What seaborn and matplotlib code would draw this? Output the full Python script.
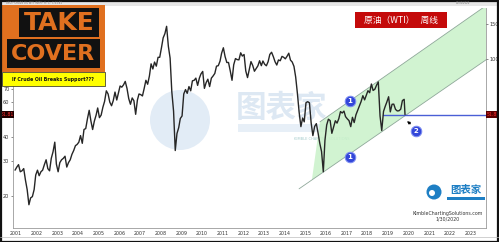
import numpy as np
import pandas as pd
import matplotlib
matplotlib.use("Agg")
import matplotlib.pyplot as plt
import seaborn as sns
from matplotlib.patches import Rectangle, Circle, Polygon

# ---------------- data ----------------
wti_start = "2001-03-01"
wti_monthly = [
    # 2001 (Mar-Dec)
    27.0, 28.0, 28.8, 26.5, 26.8, 27.5, 24.0, 21.5, 18.0, 19.5,
    # 2002
    19.8, 21.5, 25.5, 27.0, 25.3, 26.5, 27.0, 28.8, 30.5, 27.5, 26.8, 31.0,
    # 2003
    33.5, 37.5, 29.0, 26.5, 29.5, 30.5, 31.0, 31.8, 28.0, 29.5, 30.5, 32.5,
    # 2004
    34.0, 36.0, 36.5, 37.5, 40.5, 37.0, 43.5, 44.0, 49.5, 54.5, 48.0, 43.5,
    # 2005
    48.0, 51.5, 56.0, 50.0, 51.5, 56.5, 60.5, 68.5, 66.0, 60.0, 57.5, 61.0,
    # 2006
    67.5, 61.5, 66.5, 72.5, 71.5, 73.5, 76.5, 70.5, 62.5, 58.5, 63.0, 61.0,
    # 2007
    52.0, 61.5, 66.0, 65.5, 64.5, 70.5, 77.5, 74.0, 81.5, 94.0, 88.5, 96.0,
    # 2008
    91.5, 101.5, 101.5, 113.5, 127.5, 134.0, 146.0, 115.5, 100.5, 67.8, 54.0, 34.0,
    # 2009
    41.5, 44.5, 49.5, 51.0, 66.0, 69.5, 66.5, 72.0, 68.5, 77.0, 77.5, 79.5,
    # 2010
    73.0, 79.5, 83.5, 86.0, 70.5, 75.5, 78.5, 72.0, 79.5, 81.5, 84.0, 91.5,
    # 2011
    92.0, 97.0, 106.5, 113.5, 102.5, 95.5, 95.5, 86.5, 77.5, 93.0, 100.0, 98.8,
    # 2012
    98.5, 107.0, 103.0, 104.9, 86.5, 80.0, 88.0, 96.5, 92.2, 86.2, 88.9, 91.8,
    # 2013
    97.5, 92.0, 97.2, 93.5, 91.9, 96.5, 105.0, 107.7, 102.3, 96.4, 92.7, 98.4,
    # 2014
    97.5, 102.6, 101.6, 99.7, 102.7, 106.5, 98.2, 96.0, 91.2, 80.5, 66.2, 53.3,
    # 2015
    45.0, 49.8, 47.6, 59.6, 60.3, 59.5, 47.1, 40.5, 45.1, 46.6, 41.7, 37.0,
    # 2016
    33.6, 26.5, 38.3, 45.9, 49.1, 48.3, 41.6, 44.7, 48.2, 46.9, 49.4, 53.7,
    # 2017
    52.8, 54.0, 50.6, 49.3, 48.3, 45.0, 50.2, 47.2, 51.7, 54.4, 57.4, 60.4,
    # 2018
    64.7, 61.6, 64.9, 68.6, 67.0, 74.2, 68.8, 69.8, 73.3, 76.0, 50.9, 43.0,
    # 2019
    53.8, 57.2, 60.1, 63.9, 53.5, 58.5, 58.6, 55.1, 54.1, 54.2, 55.2, 61.1,
    # 2020 (Jan)
    62.0,
]
wti_last_date = "2020-01-30"
wti_last = 51.81

channel_lower_x = [2014.95, 2024.0]
channel_lower_y = [21.7, 98.5]
channel_upper_x = [2015.96, 2024.0]
channel_upper_y = [47.6, 186.0]
channel_fill_start = 2015.57

support_x = [2019.0, 2024.0]
support_level = 51.6

marker_x = [2017.41, 2017.41, 2020.6]
marker_y = [60.8, 31.6, 42.8]
marker_text = ["1", "1", "2"]
arrow_from = (2020.45, 45.6)
arrow_to = (2020.07, 48.9)

left_ticks = [20, 30, 40, 60, 70]
right_ticks = [100, 150]
year_labels = list(range(2001, 2024))

title_cn = "原油（WTI）   周线"
subtitle = "If Crude Oil Breaks Support???"

# ---------------- frame ----------------
dates = pd.date_range(wti_start, periods=len(wti_monthly), freq="MS") + pd.Timedelta(days=14)
dates = dates.append(pd.DatetimeIndex([wti_last_date]))
prices = list(wti_monthly) + [wti_last]
yr = dates.year + (dates.dayofyear - 1) / 365.25
df = pd.DataFrame({"year": yr, "price": prices})

sns.set_theme(style="white")
plt.rcParams["font.family"] = ["DejaVu Sans", "Noto Sans CJK SC"]

W, H = 499, 242
fig = plt.figure(figsize=(W / 100, H / 100), dpi=100)
fig.patch.set_facecolor("white")

# ---------------- watermark (behind chart) ----------------
bg = fig.add_axes([0, 0, 1, 1], facecolor="white", zorder=0)
bg.set_xlim(0, W)
bg.set_ylim(H, 0)
bg.axis("off")
bg.add_patch(Circle((180, 120), 30, fc="#e2ecf6", ec="none"))
bg.text(282, 108, "图表家", fontsize=22, color="#dde8f3", ha="center", va="center",
        family=["Noto Sans CJK SC"], fontweight="bold")
bg.add_patch(Rectangle((238, 124), 96, 8, fc="#e7eff7", ec="none"))
bg.text(322, 139, "KIMBLE CHARTING SOLUTIONS", fontsize=2.6, color="#a6cccc", ha="center", va="center")

ax = fig.add_axes([13 / W, 14 / H, 473 / W, 220 / H], zorder=1)
ax.patch.set_alpha(0)
ax.set_yscale("log")
ax.set_xlim(2001.1, 2024.0)
ax.set_ylim(13.7, 181)

# channel
def on_line(xs, ys, x):
    return float(np.exp(np.interp(x, xs, np.log(ys))))

x_right = ax.get_xlim()[1]
poly = [
    (channel_fill_start, on_line(channel_lower_x, channel_lower_y, channel_fill_start)),
    (x_right, on_line(channel_lower_x, channel_lower_y, x_right)),
    (x_right, on_line(channel_upper_x, channel_upper_y, x_right)),
    (channel_upper_x[0], channel_upper_y[0]),
]
ax.add_patch(Polygon(poly, closed=True, facecolor="#c9f2c9", edgecolor="none", alpha=0.85, zorder=1))
ax.plot(channel_lower_x, channel_lower_y, color="#8fa89a", lw=0.6, zorder=2)
ax.plot(channel_upper_x, channel_upper_y, color="#8fa89a", lw=0.6, zorder=2)

# support line
ax.plot(support_x, [support_level, support_level], color="#4a5fd6", lw=1.0, zorder=3)

# price
sns.lineplot(data=df, x="year", y="price", ax=ax, color="#262626", lw=1.0, zorder=4)

# markers
for mx, my, t in zip(marker_x, marker_y, marker_text):
    ax.scatter([mx], [my], s=58, color="#3347d9", edgecolor="#7f8ff2", linewidth=0.7, zorder=6)
    ax.text(mx, my, t, color="white", fontsize=5, fontweight="bold", ha="center", va="center", zorder=7)
ax.annotate("", xy=arrow_to, xytext=arrow_from,
            arrowprops=dict(arrowstyle="-|>", color="black", lw=0.7, mutation_scale=4), zorder=7)

# axes styling
ax.set_xlabel("")
ax.set_ylabel("")
for s in ["left", "right", "bottom", "top"]:
    ax.spines[s].set_color("#9a9a9a")
    ax.spines[s].set_linewidth(0.6)
ax.spines["top"].set_visible(False)
ax.yaxis.set_major_locator(matplotlib.ticker.FixedLocator(left_ticks))
ax.yaxis.set_minor_locator(matplotlib.ticker.NullLocator())
ax.yaxis.set_major_formatter(matplotlib.ticker.FixedFormatter([str(v) for v in left_ticks]))
ax.tick_params(axis="y", which="major", labelsize=3.6, length=1.5, width=0.4, pad=1, colors="#333333", left=True)

axr = ax.twinx()
axr.set_yscale("log")
axr.set_ylim(ax.get_ylim())
axr.yaxis.set_major_locator(matplotlib.ticker.FixedLocator(right_ticks))
axr.yaxis.set_minor_locator(matplotlib.ticker.NullLocator())
axr.yaxis.set_major_formatter(matplotlib.ticker.FixedFormatter([str(v) for v in right_ticks]))
axr.tick_params(axis="y", labelsize=3.6, length=1.5, width=0.4, pad=1, colors="#333333", right=True)
for s in axr.spines.values():
    s.set_visible(False)
axr.grid(False)

ax.set_xticks([y for y in year_labels if y > 2001])
ax.set_xticklabels([])
ax.set_xticks([y + 0.25 for y in year_labels], minor=True)
ax.set_xticklabels([str(y) for y in year_labels], minor=True)
ax.tick_params(axis="x", which="major", length=6, width=0.4, direction="out", colors="#cfcfcf")
ax.tick_params(axis="x", which="minor", length=0, labelsize=3.4, pad=2, labelcolor="#333333")
ax.grid(False)

# last-price labels
ax.text(-0.027, wti_last, "51.81", transform=ax.get_yaxis_transform(), fontsize=3.3, color="#ff3030",
        ha="left", va="center", bbox=dict(boxstyle="square,pad=0.15", fc="#200000", ec="none"), zorder=10, clip_on=False)
ax.text(1.001, wti_last, "51.81", transform=ax.get_yaxis_transform(), fontsize=3.3, color="#ff3030",
        ha="left", va="center", bbox=dict(boxstyle="square,pad=0.15", fc="#5a0000", ec="none"), zorder=10, clip_on=False)

# ---------------- overlay (pixel coords) ----------------
ov = fig.add_axes([0, 0, 1, 1], facecolor="none", zorder=3)
ov.set_xlim(0, W)
ov.set_ylim(H, 0)
ov.axis("off")

# top header band
ov.add_patch(Rectangle((0, 0), W, 6, fc="#e6e6e6", ec="none"))
ov.text(6, 3, "USO/? CRUDE OIL WTI  (NYM)  H:  L:  C:51.81", fontsize=1.8, color="#777777", va="center")
ov.text(470, 3, "01/30/2020", fontsize=1.8, color="#777777", va="center", ha="right")

# TAKE COVER block
ov.add_patch(Rectangle((2, 5), 103, 67, fc="#e0701f", ec="none"))
ov.add_patch(Rectangle((19, 8), 80, 29, fc="#111111", ec="none"))
ov.add_patch(Rectangle((7, 39), 93, 29, fc="#111111", ec="none"))
ov.text(59, 23, "TAKE", fontsize=18, fontweight="bold", color="#e0701f", ha="center", va="center")
ov.text(53, 54, "COVER", fontsize=16, fontweight="bold", color="#e0701f", ha="center", va="center")
ov.add_patch(Rectangle((2, 72), 103, 14, fc="#ffff00", ec="#222222", lw=0.5))
ov.text(53, 79, subtitle, fontsize=3.4, fontweight="bold", color="#111111", ha="center", va="center")

# red title box
ov.add_patch(Rectangle((355, 12), 92, 16, fc="#c40a0a", ec="none"))
ov.text(401, 20, title_cn, fontsize=6.3, color="white", ha="center", va="center",
        family=["Noto Sans CJK SC", "DejaVu Sans"])

# bottom-right logo
ov.add_patch(Circle((434, 192), 7.5, fc="#1e7fc4", ec="none"))
ov.add_patch(Circle((432, 193), 3, fc="white", ec="none"))
ov.text(466, 190, "图表家", fontsize=7.5, color="#1e7fc4", ha="center", va="center",
        family=["Noto Sans CJK SC"], fontweight="bold")
ov.add_patch(Rectangle((447, 197), 38, 3, fc="#1e7fc4", ec="none"))
ov.text(448, 213, "KimbleChartingSolutions.com", fontsize=3.4, color="#333333", ha="center", va="center")
ov.text(448, 219, "1/30/2020", fontsize=3.4, color="#333333", ha="center", va="center")

# bottom strip and frame
ov.plot([0, W], [236.5, 236.5], color="#bdbdbd", lw=0.5)
ov.add_patch(Rectangle((0.5, 0.5), W - 1, H - 1, fc="none", ec="#111111", lw=1.6))

fig.savefig("out.png", dpi=100, facecolor="white")
